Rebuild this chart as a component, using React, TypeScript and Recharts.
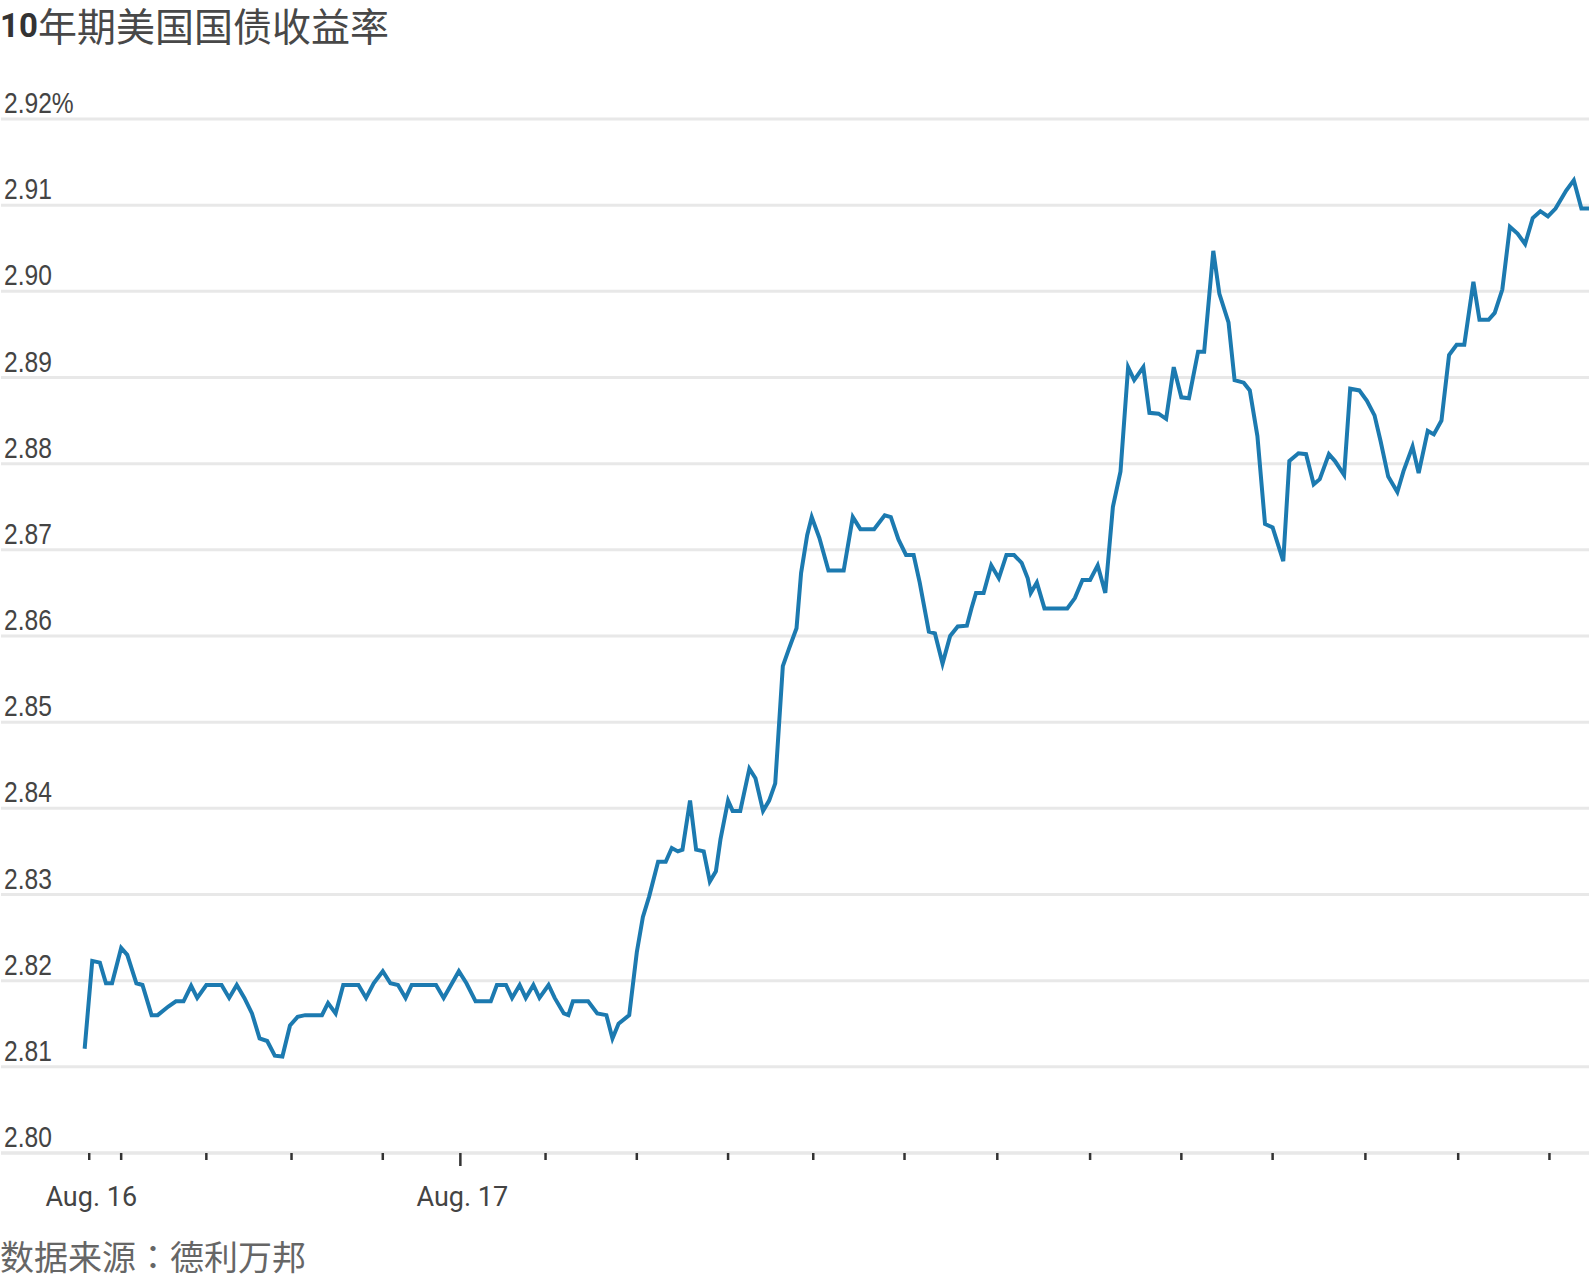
import { LineChart, Line, XAxis, YAxis, CartesianGrid } from 'recharts'

// minutes after the Aug. 16 tick
const minutes = [
  -3, 2, 7, 11, 15, 21, 25, 31, 35, 41, 45, 52, 57, 62, 67, 71, 77, 87, 92, 97,
  102, 107, 112, 117, 122, 127, 132, 137, 142, 153, 157, 162, 167, 177, 182, 187, 193, 198, 203, 208,
  212, 228, 233, 243, 248, 254, 264, 268, 274, 278, 283, 287, 292, 296, 302, 306, 312, 315, 318, 328,
  334, 340, 344, 348, 355, 360, 364, 368, 374, 379, 383, 387, 390, 395, 399, 404, 408, 412, 415, 420,
  423, 428, 434, 438, 443, 447, 451, 456, 460, 465, 468, 472, 475, 480, 486, 496, 502, 507, 516, 523,
  527, 532, 537, 542, 546, 552, 556, 561, 566, 571, 577, 580, 583, 588, 593, 598, 603, 608, 613, 617,
  619, 623, 628, 643, 648, 653, 658, 663, 668, 673, 678, 683, 687, 693, 697, 703, 708, 713, 718, 723,
  729, 733, 739, 743, 749, 753, 759, 763, 768, 773, 778, 785, 789, 795, 800, 805, 809, 815, 819, 825,
  829, 835, 840, 845, 849, 854, 860, 864, 870, 874, 880, 884, 889, 894, 899, 904, 910, 914, 920, 924,
  929, 934, 939, 944, 949, 954, 959, 964, 971, 976, 981, 986,
]

// 10-year yield, %
const yields = [
  2.8121, 2.8223, 2.8221, 2.8197, 2.8197, 2.8238, 2.823, 2.8197, 2.8195, 2.816, 2.816, 2.817, 2.8176, 2.8176, 2.8194, 2.818, 2.8195, 2.8195, 2.818, 2.8195,
  2.818, 2.8162, 2.8133, 2.813, 2.8113, 2.8112, 2.8148, 2.8158, 2.816, 2.816, 2.8174, 2.8162, 2.8195, 2.8195, 2.818, 2.8197, 2.8211, 2.8197, 2.8195, 2.818,
  2.8195, 2.8195, 2.818, 2.8211, 2.8197, 2.8176, 2.8176, 2.8195, 2.8195, 2.818, 2.8195, 2.818, 2.8195, 2.818, 2.8195, 2.818, 2.8162, 2.816, 2.8176, 2.8176,
  2.8162, 2.816, 2.8133, 2.815, 2.816, 2.8233, 2.8274, 2.8297, 2.8338, 2.8338, 2.8354, 2.835, 2.8352, 2.8409, 2.8352, 2.835, 2.8315, 2.8327, 2.8364, 2.8409,
  2.8397, 2.8397, 2.8446, 2.8435, 2.8397, 2.8409, 2.8429, 2.8565, 2.8585, 2.8609, 2.8673, 2.8717, 2.8738, 2.8714, 2.8676, 2.8676, 2.8738, 2.8724, 2.8724, 2.874,
  2.8738, 2.8712, 2.8694, 2.8694, 2.8662, 2.8605, 2.8603, 2.8568, 2.86, 2.8611, 2.8612, 2.8632, 2.865, 2.865, 2.8682, 2.8667, 2.8694, 2.8694, 2.8685, 2.8667,
  2.865, 2.8662, 2.8632, 2.8632, 2.8644, 2.8665, 2.8665, 2.8682, 2.865, 2.875, 2.8791, 2.8912, 2.8897, 2.8912, 2.8859, 2.8858, 2.8852, 2.8912, 2.8877, 2.8876,
  2.893, 2.893, 2.9047, 2.8997, 2.8964, 2.8897, 2.8894, 2.8885, 2.8832, 2.873, 2.8726, 2.8687, 2.8803, 2.8812, 2.8811, 2.8776, 2.8782, 2.8811, 2.8803, 2.8787,
  2.8887, 2.8885, 2.8873, 2.8856, 2.8826, 2.8785, 2.8767, 2.8791, 2.882, 2.8789, 2.8838, 2.8834, 2.885, 2.8926, 2.8938, 2.8938, 2.9011, 2.8967, 2.8967, 2.8975,
  2.9002, 2.9075, 2.9067, 2.9055, 2.9085, 2.9093, 2.9087, 2.9096, 2.9117, 2.9129, 2.9096, 2.9096,
]

const xTicks = [0, 21, 77, 133, 193, 244, 300, 360, 420, 476, 536, 597, 658, 718, 778, 839, 900, 960]
const xTickLabels = ['Aug. 16', '', '', '', '', 'Aug. 17', '', '', '', '', '', '', '', '', '', '', '', '']

const yTicks = [2.8, 2.81, 2.82, 2.83, 2.84, 2.85, 2.86, 2.87, 2.88, 2.89, 2.9, 2.91, 2.92]
const yTickLabels = ['2.80', '2.81', '2.82', '2.83', '2.84', '2.85', '2.86', '2.87', '2.88', '2.89', '2.90', '2.91', '2.92%']

const data = minutes.map((t, i) => ({ t, y: yields[i] }))

const cjk = "'Noto Sans CJK SC', 'Noto Sans', sans-serif"

function XTick({ x, y, payload }: any) {
  const i = xTicks.indexOf(payload.value)
  const label = xTickLabels[i] || ''
  const len = label === 'Aug. 17' ? 13 : 7
  return (
    <g>
      <line x1={x} x2={x} y1={y} y2={y + len} stroke="#333" strokeWidth={2.5} />
      {label && (
        <text x={x + 2} y={y + 53} textAnchor="middle" fontSize={27} fontFamily="Roboto, sans-serif" fill="#444">
          {label}
        </text>
      )}
    </g>
  )
}

// narrow figures: same height, squeezed sideways
function YTick({ y, payload }: any) {
  const i = yTicks.findIndex((v) => Math.abs(v - payload.value) < 1e-9)
  return (
    <text
      transform={`translate(4, ${y - 6}) scale(0.82, 1)`}
      textAnchor="start"
      fontSize={30}
      fontFamily="'Liberation Sans', Arial, sans-serif"
      fill="#444"
    >
      {yTickLabels[i]}
    </text>
  )
}

export default function App() {
  return (
    <div style={{ position: 'relative', width: 1589, height: 1280, background: '#fff', overflow: 'hidden' }}>
      <style>{'body{margin:0}'}</style>
      <LineChart width={1589} height={1220} data={data} margin={{ top: 119, right: 0, left: 0, bottom: 7 }}>
        <CartesianGrid vertical={false} stroke="#e8e8e8" strokeWidth={3} />
        <XAxis
          dataKey="t"
          type="number"
          domain={[-58, 986]}
          ticks={xTicks}
          interval={0}
          height={60}
          tickSize={0}
          tickMargin={0}
          tickLine={false}
          axisLine={{ stroke: '#e8e8e8', strokeWidth: 3 }}
          tick={<XTick />}
          allowDataOverflow
        />
        <YAxis
          type="number"
          domain={[2.8, 2.92]}
          ticks={yTicks}
          interval={0}
          width={1}
          axisLine={false}
          tickLine={false}
          tick={<YTick />}
          allowDataOverflow
        />
        <Line
          type="linear"
          dataKey="y"
          stroke="#1c7ab0"
          strokeWidth={4}
          dot={false}
          isAnimationActive={false}
        />
      </LineChart>
      <svg width={1589} height={1280} style={{ position: 'absolute', left: 0, top: 0, pointerEvents: 'none' }}>
        <text x={0} y={37} fontSize={33} fontWeight={700} fontFamily="Roboto, sans-serif" fill="#333">
          10
        </text>
        <text x={38} y={41} fontSize={39} fontFamily={cjk} fill="#484848">
          年期美国国债收益率
        </text>
        <text x={0} y={1270} fontSize={34} fontFamily={cjk} fill="#666">
          数据来源
          <tspan fontFamily="'Noto Sans CJK TC', sans-serif">：</tspan>
          德利万邦
        </text>
      </svg>
    </div>
  )
}
